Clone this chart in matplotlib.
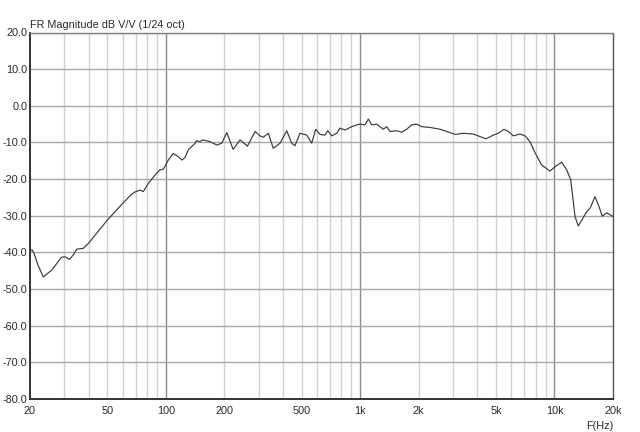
import matplotlib
matplotlib.use("Agg")
import matplotlib.pyplot as plt
from matplotlib.ticker import FixedLocator, NullFormatter, NullLocator

plt.rcParams['font.family'] = ['Liberation Sans', 'DejaVu Sans']

freq_hz = [20, 20.5, 21.0, 22.0, 23.4, 25.9, 29.1, 30.3, 31.9, 33.4, 34.8, 37.6, 40,
           50, 60, 66.7, 69.4, 73.6, 76.6, 81.2, 88, 93.3, 97, 103, 109, 116, 121,
           125.5, 130.5, 141, 144, 150, 155, 169, 183, 194, 206, 222, 241, 263, 288,
           305, 317, 337, 357, 387, 419, 444, 462, 490, 531, 563, 591, 621, 659, 681,
           714, 757, 787, 836, 905, 960, 1000, 1059, 1101, 1147, 1217, 1265, 1315,
           1369, 1424, 1542, 1636, 1735, 1841, 1954, 2073, 2288, 2576, 2789, 3076,
           3394, 3822, 4138, 4442, 4843, 5138, 5497, 5786, 6138, 6647, 7052, 7484,
           7937, 8595, 9484, 10060, 10893, 11560, 12119, 12410, 12752, 13260, 13804,
           14645, 15230, 16160, 16944, 17620, 18564, 20000]
mag_db = [-39.6, -39.3, -40.3, -43.5, -46.7, -44.8, -41.3, -41.2, -41.9, -40.7, -39.1,
          -38.9, -37.5, -31.2, -26.6, -24.1, -23.5, -23.0, -23.4, -21.2, -18.9, -17.5,
          -17.3, -14.8, -13.0, -13.9, -14.8, -14.1, -12.0, -10.3, -9.5, -9.8, -9.3,
          -9.8, -10.7, -10.2, -7.3, -11.9, -9.3, -11.0, -7.0, -8.2, -8.6, -7.5, -11.6,
          -10.2, -6.8, -10.2, -10.9, -7.5, -8.0, -10.2, -6.4, -7.8, -8.0, -6.8, -8.2,
          -7.5, -6.1, -6.6, -5.7, -5.2, -5.0, -5.2, -3.6, -5.2, -5.0, -5.7, -6.4, -5.7,
          -7.0, -6.8, -7.2, -6.4, -5.2, -5.0, -5.7, -5.9, -6.4, -7.0, -7.8, -7.5, -7.7,
          -8.4, -9.0, -8.0, -7.5, -6.4, -7.0, -8.2, -7.7, -8.2, -9.8, -12.8, -16.2,
          -17.8, -16.6, -15.4, -17.5, -20.2, -24.8, -30.2, -32.8, -31.2, -28.9, -28.0,
          -24.8, -27.5, -30.1, -29.2, -30.2]

major_x = [100, 1000, 10000]
minor_x = [30, 40, 50, 60, 70, 80, 90, 200, 300, 400, 500, 600, 700, 800, 900,
           2000, 3000, 4000, 5000, 6000, 7000, 8000, 9000]
xtick_vals = [20, 50, 100, 200, 500, 1000, 2000, 5000, 10000, 20000]
xtick_labels = ['20', '50', '100', '200', '500', '1k', '2k', '5k', '10k', '20k']
ytick_vals = [20, 10, 0, -10, -20, -30, -40, -50, -60, -70, -80]
ytick_labels = ['20.0', '10.0', '0.0', '-10.0', '-20.0', '-30.0', '-40.0', '-50.0',
                '-60.0', '-70.0', '-80.0']

fig = plt.figure(figsize=(6.4, 4.32), dpi=100)
ax = fig.add_axes([30/640, 1 - 399/432, 583/640, 366.5/432])
ax.set_xscale('log')
ax.set_xlim(20, 20000)
ax.set_ylim(-80, 20)

for f in minor_x:
    ax.axvline(f, color='#d0d0d0', lw=1.0, zorder=1)
for f in major_x:
    ax.axvline(f, color='#8a8a8a', lw=1.0, zorder=1)
for v in ytick_vals:
    ax.axhline(v, color='#a8a8a8', lw=1.0, zorder=1)

ax.plot(freq_hz, mag_db, color='#3a3a3a', lw=0.85, zorder=3)

ax.xaxis.set_major_locator(FixedLocator(xtick_vals))
ax.xaxis.set_minor_locator(NullLocator())
ax.xaxis.set_minor_formatter(NullFormatter())
ax.set_xticks(xtick_vals)
ax.set_xticklabels(xtick_labels)
ax.set_yticks(ytick_vals)
ax.set_yticklabels(ytick_labels)
ax.tick_params(axis='both', length=0, labelsize=7.8, colors='#2a2a2a')
ax.tick_params(axis='x', pad=5)
ax.tick_params(axis='y', pad=2)

ax.spines['left'].set_color('#333333')
ax.spines['left'].set_linewidth(1.4)
ax.spines['bottom'].set_color('#333333')
ax.spines['bottom'].set_linewidth(1.4)
ax.spines['top'].set_color('#808080')
ax.spines['top'].set_linewidth(1.0)
ax.spines['right'].set_color('#555555')
ax.spines['right'].set_linewidth(1.0)

fig.text(30/640, 1 - 28/432, 'FR Magnitude dB V/V (1/24 oct)', fontsize=7.8,
         color='#2a2a2a', ha='left', va='baseline')
fig.text(613/640, 1 - 431/432, 'F(Hz)', fontsize=7.8, color='#2a2a2a',
         ha='right', va='bottom')

fig.savefig('out.png', dpi=100, facecolor='white')
